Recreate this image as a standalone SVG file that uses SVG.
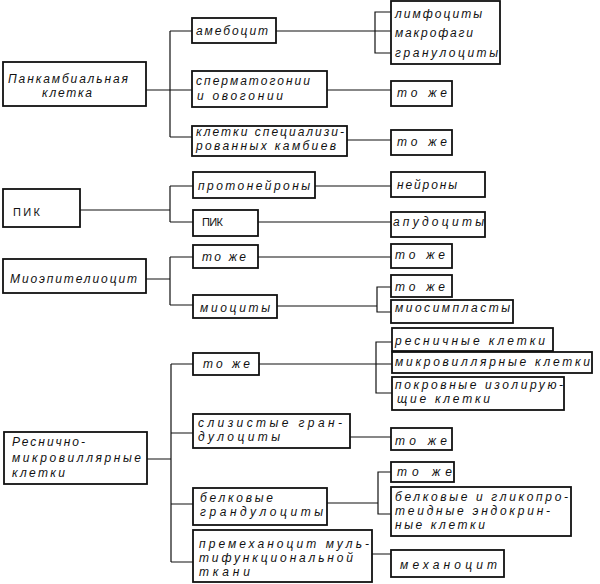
<svg xmlns="http://www.w3.org/2000/svg" width="600" height="584" viewBox="0 0 600 584">
<style>
.box{fill:#fff;stroke:#111;stroke-width:1.8}
.ln{fill:none;stroke:#111;stroke-width:1.2}
.t{font-family:"Liberation Sans","DejaVu Sans",sans-serif;font-style:italic;font-size:12px;fill:#111}
.u{font-family:"Liberation Sans","DejaVu Sans",sans-serif;font-size:11px;fill:#111}
</style>
<rect width="600" height="584" fill="#fff"/>
<g id="connectors">
<path class="ln" d="M146,90 H192 M170,31 V137 M170,31 H192 M170,137 H192"/>
<path class="ln" d="M276,31 H391 M391,12 H375 V53 H391"/>
<path class="ln" d="M327,90 H391 M347,140 H391"/>
<path class="ln" d="M80,210 H170 M170,186 V222 M170,186 H193 M170,222 H193 M315,186 H391 M258,222 H391"/>
<path class="ln" d="M146,279 H170 M170,257 V305 M170,257 H193 M170,305 H193 M258,257 H391 M277,306 H377 M391,287 H377 V312 H391"/>
<path class="ln" d="M147,459 H171 M171,364 V562 M171,364 H193 M171,433 H193 M171,504 H193 M171,562 H193"/>
<path class="ln" d="M259,364 H392 M392,342 H376 V393 H392 M350,437 H391 M327,503 H378 M391,472 H378 V514 H391 M372,554 H391"/>
</g>
<g id="n1"><rect class="box" x="3" y="62" width="143" height="44"/><text class="t" x="8" y="83" textLength="120" lengthAdjust="spacing">Панкамбиальная</text><text class="t" x="42" y="97" textLength="50" lengthAdjust="spacing">клетка</text></g>
<g id="n2"><rect class="box" x="192" y="18" width="84" height="25"/><text class="t" x="196" y="35" textLength="72" lengthAdjust="spacing">амебоцит</text></g>
<g id="n3"><rect class="box" x="391" y="1" width="109" height="63"/><text class="t" x="395" y="18" textLength="87" lengthAdjust="spacing">лимфоциты</text><text class="t" x="395" y="37" textLength="78" lengthAdjust="spacing">макрофаги</text><text class="t" x="395" y="57" textLength="103" lengthAdjust="spacing">гранулоциты</text></g>
<g id="n4"><rect class="box" x="192" y="71" width="135" height="36"/><text class="t" x="196" y="85" textLength="114" lengthAdjust="spacing">сперматогонии</text><text class="t" x="197" y="100" textLength="86" lengthAdjust="spacing">и овогонии</text></g>
<g id="n5"><rect class="box" x="391" y="81" width="61" height="25"/><text class="t" x="397" y="97" textLength="50" lengthAdjust="spacing">то же</text></g>
<g id="n6"><rect class="box" x="192" y="126" width="155" height="30"/><text class="t" x="196" y="136" textLength="148" lengthAdjust="spacing">клетки специализи-</text><text class="t" x="196" y="150" textLength="140" lengthAdjust="spacing">рованных камбиев</text></g>
<g id="n7"><rect class="box" x="391" y="130" width="61" height="25"/><text class="t" x="397" y="146" textLength="50" lengthAdjust="spacing">то же</text></g>
<g id="n8"><rect class="box" x="3" y="189" width="77" height="38"/><text class="u" x="13" y="216" textLength="27" lengthAdjust="spacing">ПИК</text></g>
<g id="n9"><rect class="box" x="193" y="172" width="122" height="26"/><text class="t" x="198" y="190" textLength="112" lengthAdjust="spacing">протонейроны</text></g>
<g id="n10"><rect class="box" x="391" y="172" width="94" height="25"/><text class="t" x="397" y="189" textLength="60" lengthAdjust="spacing">нейроны</text></g>
<g id="n11"><rect class="box" x="193" y="210" width="65" height="26"/><text class="u" x="202" y="226" textLength="21" lengthAdjust="spacing">ПИК</text></g>
<g id="n12"><rect class="box" x="391" y="212" width="94" height="25"/><text class="t" x="393" y="226" textLength="91" lengthAdjust="spacing">апудоциты</text></g>
<g id="n13"><rect class="box" x="3" y="259" width="143" height="34"/><text class="t" x="10" y="283" textLength="127" lengthAdjust="spacing">Миоэпителиоцит</text></g>
<g id="n14"><rect class="box" x="193" y="245" width="65" height="23"/><text class="t" x="202" y="261" textLength="44" lengthAdjust="spacing">то же</text></g>
<g id="n15"><rect class="box" x="391" y="244" width="61" height="24"/><text class="t" x="395" y="259" textLength="50" lengthAdjust="spacing">то же</text></g>
<g id="n16"><rect class="box" x="193" y="295" width="84" height="23"/><text class="t" x="200" y="312" textLength="70" lengthAdjust="spacing">миоциты</text></g>
<g id="n17"><rect class="box" x="391" y="275" width="61" height="22"/><text class="t" x="395" y="291" textLength="50" lengthAdjust="spacing">то же</text></g>
<g id="n18"><rect class="box" x="391" y="300" width="122" height="23"/><text class="t" x="395" y="312" textLength="115" lengthAdjust="spacing">миосимпласты</text></g>
<g id="n19"><rect class="box" x="4" y="432" width="143" height="52"/><text class="t" x="12" y="446" textLength="73" lengthAdjust="spacing">Реснично-</text><text class="t" x="12" y="462" textLength="129" lengthAdjust="spacing">микровиллярные</text><text class="t" x="12" y="477" textLength="53" lengthAdjust="spacing">клетки</text></g>
<g id="n20"><rect class="box" x="193" y="353" width="66" height="22"/><text class="t" x="203" y="368" textLength="47" lengthAdjust="spacing">то же</text></g>
<g id="n21"><rect class="box" x="392" y="328" width="161" height="23"/><text class="t" x="395" y="345" textLength="150" lengthAdjust="spacing">ресничные клетки</text></g>
<g id="n22"><rect class="box" x="392" y="352" width="200" height="21"/><text class="t" x="395" y="366" textLength="195" lengthAdjust="spacing">микровиллярные клетки</text></g>
<g id="n23"><rect class="box" x="392" y="377" width="172" height="33"/><text class="t" x="395" y="389" textLength="168" lengthAdjust="spacing">покровные изолирую-</text><text class="t" x="397" y="403" textLength="93" lengthAdjust="spacing">щие клетки</text></g>
<g id="n24"><rect class="box" x="193" y="414" width="157" height="34"/><text class="t" x="198" y="427" textLength="144" lengthAdjust="spacing">слизистые гран-</text><text class="t" x="198" y="441" textLength="82" lengthAdjust="spacing">дулоциты</text></g>
<g id="n25"><rect class="box" x="391" y="428" width="61" height="22"/><text class="t" x="395" y="445" textLength="52" lengthAdjust="spacing">то же</text></g>
<g id="n26"><rect class="box" x="193" y="488" width="134" height="37"/><text class="t" x="200" y="502" textLength="73" lengthAdjust="spacing">белковые</text><text class="t" x="200" y="516" textLength="123" lengthAdjust="spacing">грандулоциты</text></g>
<g id="n27"><rect class="box" x="391" y="462" width="63" height="20"/><text class="t" x="397" y="476" textLength="55" lengthAdjust="spacing">то же</text></g>
<g id="n28"><rect class="box" x="391" y="487" width="180" height="49"/><text class="t" x="395" y="501" textLength="173" lengthAdjust="spacing">белковые и гликопро-</text><text class="t" x="395" y="515" textLength="155" lengthAdjust="spacing">теидные эндокрин-</text><text class="t" x="395" y="529" textLength="90" lengthAdjust="spacing">ные клетки</text></g>
<g id="n29"><rect class="box" x="193" y="530" width="179" height="52"/><text class="t" x="199" y="548" textLength="170" lengthAdjust="spacing">премеханоцит муль-</text><text class="t" x="199" y="562" textLength="154" lengthAdjust="spacing">тифункциональной</text><text class="t" x="199" y="576" textLength="51" lengthAdjust="spacing">ткани</text></g>
<g id="n30"><rect class="box" x="391" y="550" width="113" height="27"/><text class="t" x="400" y="569" textLength="97" lengthAdjust="spacing">механоцит</text></g>
</svg>
